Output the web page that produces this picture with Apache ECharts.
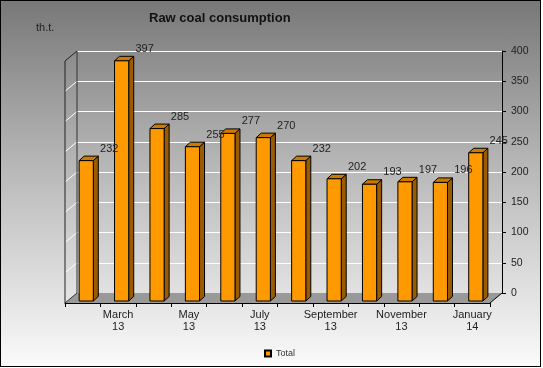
<!DOCTYPE html>
<html>
<head>
<meta charset="utf-8">
<script src="https://cdn.jsdelivr.net/npm/echarts@6/dist/echarts.min.js"></script>
<style>
  html, body { margin: 0; padding: 0; background: #ffffff; }
  #frame { position: absolute; left: 0; top: 0; width: 539px; height: 365px; border: 1px solid #000;
           background: linear-gradient(to bottom, #787878 0%, #b7b7b7 45%, #fafafa 100%); }
  #chart { position: absolute; left: 0; top: 0; width: 543px; height: 368px; }
</style>
</head>
<body>
<div id="frame"></div>
<div id="chart"></div>
<script>
// ---- data ----
const categories = ["February 13", "March 13", "April 13", "May 13", "June 13", "July 13",
                    "August 13", "September 13", "October 13", "November 13", "December 13", "January 14"];
const totalValues = [232, 397, 285, 255, 277, 270, 232, 202, 193, 197, 196, 245];
const yTicks = [0, 50, 100, 150, 200, 250, 300, 350, 400];
const seriesName = "Total";
const chartTitle = "Raw coal consumption";
const unitLabel = "th.t.";

// ---- geometry (layout only) ----
const FL = 65, FR = 490, FB = 303;      // front edge of floor
const DX = 12, DY = -10;                // depth of the 3D box
const H = 242;                          // wall height
const BAR_DX = 5, BAR_DY = -4.5;        // depth of each bar
const FONT = '"Liberation Sans", Arial, sans-serif';

const yMin = yTicks[0], yMax = yTicks[yTicks.length - 1], yStep = yTicks[1] - yTicks[0];

const chart = echarts.init(document.getElementById('chart'), null, { renderer: 'canvas' });

function renderBar(params, api) {
  const x = api.value(0), v = api.value(1);
  const top = api.coord([x, v]);
  const base = api.coord([x, 0]);
  const w = api.size([1, 0])[0] * 0.4;
  const l = top[0] - w / 2, r = l + w;
  const t = top[1], b = base[1];
  const edge = { stroke: '#000', lineWidth: 1 };
  return {
    type: 'group',
    children: [
      { type: 'polygon', shape: { points: [[r, t], [r + BAR_DX, t + BAR_DY], [r + BAR_DX, b + BAR_DY], [r, b]] },
        style: Object.assign({ fill: '#9a5c00' }, edge) },
      { type: 'polygon', shape: { points: [[l, t], [l + BAR_DX, t + BAR_DY], [r + BAR_DX, t + BAR_DY], [r, t]] },
        style: Object.assign({ fill: '#cc7a00' }, edge) },
      { type: 'rect', shape: { x: l, y: t, width: w, height: b - t },
        style: Object.assign({ fill: '#ff9900' }, edge) },
      { type: 'text', x: top[0] + 23, y: t - 12, z2: 100,
        style: { text: String(v), fill: '#222', font: '11px ' + FONT, align: 'center', verticalAlign: 'middle' } }
    ]
  };
}

chart.setOption({
  backgroundColor: 'transparent',
  animation: false,
  title: {
    text: chartTitle, left: 149, top: 12, padding: 0,
    textStyle: { fontFamily: FONT, fontSize: 13, fontWeight: 'bold', color: '#111' }
  },
  legend: {
    data: [{ name: seriesName, icon: 'rect' }],
    left: 264, top: 349, padding: 0, itemWidth: 6, itemHeight: 6,
    textStyle: { fontFamily: FONT, fontSize: 9, color: '#333' }
  },
  grid: [
    { left: FL + DX, top: FB + DY - H, width: FR - FL, height: H },          // back wall
    { left: FL, top: FB - H, width: FR - FL, height: H },                    // front (category axis)
    { left: FL + 3.5, top: FB - 2 - H, width: FR - FL, height: H }           // bars plane
  ],
  xAxis: [
    { gridIndex: 0, type: 'category', data: categories, show: false },
    { gridIndex: 1, type: 'category', data: categories,
      axisLine: { show: true, lineStyle: { color: '#000', width: 1 } },
      axisTick: { show: true, interval: 0, length: 4, lineStyle: { color: '#000' } },
      axisLabel: { interval: (i) => i % 2 === 1, margin: 6, fontFamily: FONT, fontSize: 11, color: '#222',
                   lineHeight: 12, formatter: (s) => s.replace(' ', '\n') } },
    { gridIndex: 2, type: 'category', data: categories, show: false }
  ],
  yAxis: [
    { gridIndex: 0, type: 'value', position: 'right', min: yMin, max: yMax, interval: yStep,
      axisLine: { show: true, lineStyle: { color: '#000', width: 1 } },
      axisTick: { show: true, length: 4, lineStyle: { color: '#000' } },
      axisLabel: { margin: 9, fontFamily: FONT, fontSize: 10.5, color: '#222' },
      splitLine: { show: true, lineStyle: { color: '#ffffff', width: 1 } } },
    { gridIndex: 1, type: 'value', min: yMin, max: yMax, interval: yStep, show: false, splitLine: { show: false } },
    { gridIndex: 2, type: 'value', min: yMin, max: yMax, interval: yStep, show: false, splitLine: { show: false } }
  ],
  series: [{
    name: seriesName, type: 'custom', xAxisIndex: 2, yAxisIndex: 2,
    itemStyle: { color: '#ff9900', borderColor: '#000', borderWidth: 1 },
    renderItem: renderBar,
    encode: { x: 0, y: 1 },
    data: totalValues.map((v, i) => [i, v]),
    z: 5
  }]
});

// ---- 3D box decoration (walls / floor), placed from the back-wall scale ----
const deco = [];
const backY = (v) => chart.convertToPixel({ yAxisIndex: 0 }, v);
deco.push({ type: 'polygon', z: 1,
  shape: { points: [[FL, FB], [FR, FB], [FR + DX, FB + DY], [FL + DX, FB + DY]] },
  style: { fill: '#999999' } });
deco.push({ type: 'line', z: 3, shape: { x1: FR, y1: FB, x2: FR + DX, y2: FB + DY }, style: { stroke: '#000', lineWidth: 1 } });
deco.push({ type: 'line', z: 3, shape: { x1: FL, y1: FB, x2: FL + DX, y2: FB + DY }, style: { stroke: '#333', lineWidth: 1 } });
yTicks.forEach((v) => {
  if (v === yMin || v === yMax) return;
  const y = backY(v);
  deco.push({ type: 'line', z: 2, shape: { x1: FL, y1: y - DY, x2: FL + DX, y2: y }, style: { stroke: '#ffffff', lineWidth: 1 } });
});
const yTop = backY(yMax);
deco.push({ type: 'line', z: 3, shape: { x1: FL, y1: yTop - DY, x2: FL + DX, y2: yTop }, style: { stroke: '#222', lineWidth: 1 } });
deco.push({ type: 'line', z: 3, shape: { x1: FL, y1: yTop - DY, x2: FL, y2: FB }, style: { stroke: '#222', lineWidth: 1 } });
deco.push({ type: 'line', z: 3, shape: { x1: FL + DX, y1: yTop, x2: FL + DX, y2: FB + DY }, style: { stroke: '#333', lineWidth: 1 } });
deco.push({ type: 'text', z: 3, x: 36, y: 28,
  style: { text: unitLabel, fill: '#222', font: '11px ' + FONT, align: 'left', verticalAlign: 'middle' } });

chart.setOption({ graphic: deco });
</script>
</body>
</html>
